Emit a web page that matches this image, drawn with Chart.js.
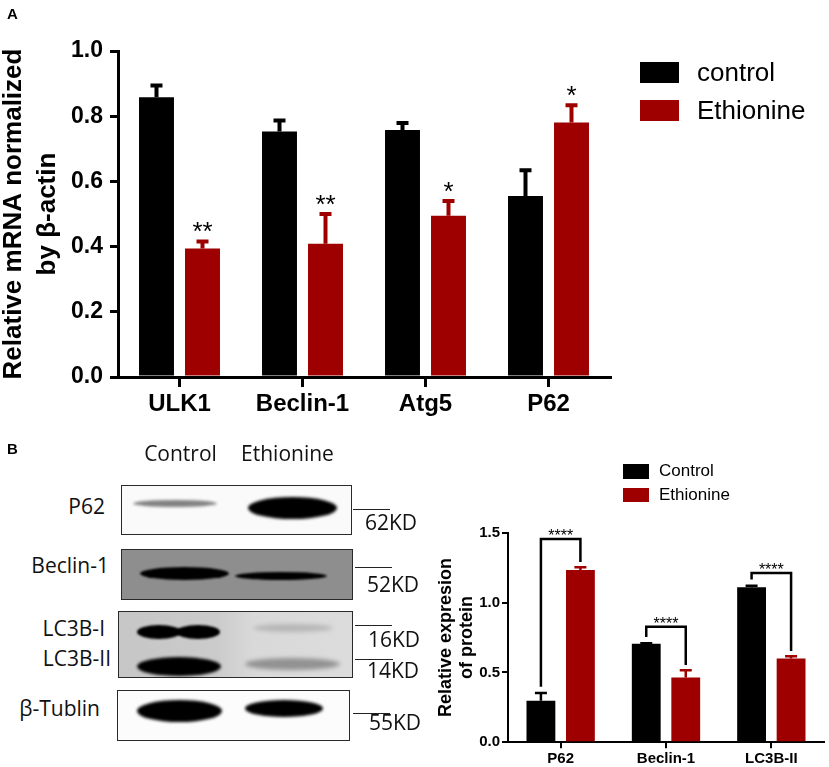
<!DOCTYPE html>
<html><head><meta charset="utf-8">
<script src="https://cdn.jsdelivr.net/npm/chart.js@4.4.0/dist/chart.umd.min.js"></script>
<style>
html,body{margin:0;padding:0;background:#fff;}
#fig{position:relative;width:829px;height:767px;overflow:hidden;background:#fff;}
.abs{position:absolute;}
.t{position:absolute;white-space:nowrap;line-height:1;color:#111;}
.box{position:absolute;box-sizing:border-box;border:1.5px solid #2a2a2a;}
.band{position:absolute;border-radius:50%;}
.mk{position:absolute;height:0;border-top:1.5px solid #222;}
.lg{position:absolute;white-space:nowrap;font-family:"Liberation Sans",Arial,sans-serif;color:#000;}
</style></head><body>
<div id="fig">
 <canvas id="chartA" class="abs" style="left:0;top:0;width:700px;height:430px" width="700" height="430"></canvas>
 <canvas id="chartB" class="abs" style="left:420px;top:420px;width:409px;height:347px" width="409" height="347"></canvas>
</div>
<script>
// ---------- Data ----------
const seriesNames = ['control', 'Ethionine'];
const seriesNamesB = ['Control', 'Ethionine'];

const categoriesA = ['ULK1', 'Beclin-1', 'Atg5', 'P62'];
const controlA = [0.858, 0.753, 0.758, 0.555];
const controlErrA = [0.042, 0.040, 0.027, 0.085];
const ethionineA = [0.394, 0.409, 0.495, 0.781];
const ethionineErrA = [0.028, 0.097, 0.051, 0.059];
const sigA = ['**', '**', '*', '*'];

const categoriesB = ['P62', 'Beclin-1', 'LC3B-II'];
const controlB = [0.298, 0.706, 1.109];
const controlErrB = [0.064, 0.012, 0.021];
const ethionineB = [1.233, 0.463, 0.599];
const ethionineErrB = [0.029, 0.062, 0.026];
const bracketTopB = [1.455, 0.827, 1.212];
const sigB = ['****', '****', '****'];

const blotLanes = ['Control', 'Ethionine'];
const blotProteins = ['P62', 'Beclin-1', 'LC3B-I', 'LC3B-II', 'β-Tublin'];
const blotMarkers = ['62KD', '52KD', '16KD', '14KD', '55KD'];

// ---------- Styles ----------
const BLACK = '#000000';
const RED = '#9e0000';
const FONT = '"Liberation Sans", Arial, sans-serif';
const BLOTFONT = '"Open Sans", "Noto Sans", sans-serif';
const fig = document.getElementById('fig');

function el(cls, css, text) {
  const d = document.createElement('div');
  d.className = cls;
  Object.assign(d.style, css);
  if (text !== undefined) d.textContent = text;
  fig.appendChild(d);
  return d;
}
// text placed by baseline (line-height:1)
function textAt(str, x, baseline, size, family, weight, align, ascentRatio) {
  const top = baseline - size * ascentRatio;
  const css = {top: top + 'px', fontSize: size + 'px', fontFamily: family, fontWeight: weight};
  if (align === 'right') css.right = (829 - x) + 'px';
  else if (align === 'center') { css.left = (x - 200) + 'px'; css.width = '400px'; css.textAlign = 'center'; }
  else css.left = x + 'px';
  return el('t', css, str);
}

// ---------- Plugins ----------
const errorBars = {
  id: 'errorBars',
  afterDatasetsDraw(chart, args, opts) {
    const {ctx} = chart; const ys = chart.scales.y;
    chart.data.datasets.forEach((ds, i) => {
      const meta = chart.getDatasetMeta(i);
      meta.data.forEach((bar, j) => {
        const top = ys.getPixelForValue(ds.data[j] + ds.errors[j]);
        ctx.save();
        ctx.strokeStyle = ds.backgroundColor; ctx.lineWidth = opts.lineWidth; ctx.lineCap = 'butt';
        ctx.beginPath();
        ctx.moveTo(bar.x, bar.y); ctx.lineTo(bar.x, top + opts.lineWidth / 2);
        ctx.moveTo(bar.x - opts.capHalf, top + opts.lineWidth / 2); ctx.lineTo(bar.x + opts.capHalf, top + opts.lineWidth / 2);
        ctx.stroke();
        ctx.restore();
      });
    });
  }
};

const starsA = {
  id: 'starsA',
  afterDatasetsDraw(chart) {
    const {ctx} = chart; const ys = chart.scales.y;
    const ds = chart.data.datasets[1]; const meta = chart.getDatasetMeta(1);
    ctx.save();
    ctx.fillStyle = '#000'; ctx.font = '26px ' + FONT; ctx.textAlign = 'center'; ctx.textBaseline = 'alphabetic';
    meta.data.forEach((bar, j) => {
      const top = ys.getPixelForValue(ds.data[j] + ds.errors[j]);
      ctx.fillText(sigA[j], bar.x, top + 1);
    });
    ctx.restore();
  }
};

const bracketsB = {
  id: 'bracketsB',
  afterDatasetsDraw(chart) {
    const {ctx} = chart; const ys = chart.scales.y;
    const d0 = chart.data.datasets[0], d1 = chart.data.datasets[1];
    const m0 = chart.getDatasetMeta(0), m1 = chart.getDatasetMeta(1);
    ctx.save();
    ctx.strokeStyle = '#000'; ctx.lineWidth = 2.5; ctx.lineJoin = 'miter';
    ctx.fillStyle = '#000'; ctx.font = '16px ' + FONT; ctx.textAlign = 'center'; ctx.textBaseline = 'alphabetic';
    m0.data.forEach((b0, j) => {
      const b1 = m1.data[j];
      const yT = ys.getPixelForValue(bracketTopB[j]);
      const yL = ys.getPixelForValue(d0.data[j] + d0.errors[j]) - 5;
      const yR = ys.getPixelForValue(d1.data[j] + d1.errors[j]) - 4;
      ctx.beginPath();
      ctx.moveTo(b0.x, yL); ctx.lineTo(b0.x, yT); ctx.lineTo(b1.x, yT); ctx.lineTo(b1.x, yR);
      ctx.stroke();
      ctx.fillText(sigB[j], (b0.x + b1.x) / 2, yT + 2.5);
    });
    ctx.restore();
  }
};

// ---------- Chart A ----------
new Chart(document.getElementById('chartA'), {
  type: 'bar',
  data: {
    labels: categoriesA,
    datasets: [
      {label: seriesNames[0], data: controlA, errors: controlErrA, backgroundColor: BLACK, borderWidth: 0,
       categoryPercentage: 0.748, barPercentage: 0.76},
      {label: seriesNames[1], data: ethionineA, errors: ethionineErrA, backgroundColor: RED, borderWidth: 0,
       categoryPercentage: 0.748, barPercentage: 0.76}
    ]
  },
  options: {
    responsive: false, animation: false, devicePixelRatio: 1,
    layout: {padding: {left: 0, top: 51, right: 90, bottom: 3}},
    plugins: {legend: {display: false}, tooltip: {enabled: false},
      errorBars: {lineWidth: 4, capHalf: 6}},
    scales: {
      x: {
        grid: {display: true, drawOnChartArea: false, drawTicks: true, tickLength: 10, offset: false, color: '#000', lineWidth: 3},
        border: {display: true, color: '#000', width: 3},
        ticks: {color: '#000', font: {family: FONT, size: 24, weight: 'bold'}, padding: 3, maxRotation: 0},
        afterFit(s) { s.height = 50; s.paddingLeft = 0; s.paddingRight = 0; }
      },
      y: {
        min: 0, max: 1.0,
        grid: {display: true, drawOnChartArea: false, drawTicks: true, tickLength: 8, color: '#000', lineWidth: 3},
        border: {display: true, color: '#000', width: 3},
        ticks: {stepSize: 0.2, color: '#000', font: {family: FONT, size: 23, weight: 'bold'}, padding: 7,
          callback: v => Number(v).toFixed(1)},
        title: {display: true, text: ['Relative mRNA normalized', 'by β-actin'], color: '#000',
          font: {family: FONT, size: 26, weight: 'bold', lineHeight: 1.3}, padding: {top: -3, bottom: 0}},
        afterFit(s) { s.width = 118; s.paddingTop = 0; s.paddingBottom = 0; }
      }
    }
  },
  plugins: [errorBars, starsA]
});

// ---------- Chart B ----------
new Chart(document.getElementById('chartB'), {
  type: 'bar',
  data: {
    labels: categoriesB,
    datasets: [
      {label: seriesNamesB[0], data: controlB, errors: controlErrB, backgroundColor: BLACK, borderWidth: 0,
       categoryPercentage: 0.75, barPercentage: 0.73},
      {label: seriesNamesB[1], data: ethionineB, errors: ethionineErrB, backgroundColor: RED, borderWidth: 0,
       categoryPercentage: 0.75, barPercentage: 0.73}
    ]
  },
  options: {
    responsive: false, animation: false, devicePixelRatio: 1,
    layout: {padding: {left: 0, top: 112.7, right: 5, bottom: 2.7}},
    plugins: {legend: {display: false}, tooltip: {enabled: false},
      errorBars: {lineWidth: 2.5, capHalf: 6}},
    scales: {
      x: {
        grid: {display: true, drawOnChartArea: false, drawTicks: true, tickLength: 6, offset: false, color: '#000', lineWidth: 2},
        border: {display: true, color: '#000', width: 2},
        ticks: {color: '#000', font: {family: FONT, size: 15, weight: 'bold'}, padding: 2, maxRotation: 0},
        afterFit(s) { s.height = 22; s.paddingLeft = 0; s.paddingRight = 0; }
      },
      y: {
        min: 0, max: 1.5,
        grid: {display: true, drawOnChartArea: false, drawTicks: true, tickLength: 6, color: '#000', lineWidth: 2},
        border: {display: true, color: '#000', width: 2},
        ticks: {stepSize: 0.5, color: '#000', font: {family: FONT, size: 15, weight: 'bold'}, padding: 2,
          callback: v => Number(v).toFixed(1)},
        title: {display: true, text: ['Relative expresion', 'of protein'], color: '#000',
          font: {family: FONT, size: 18, weight: 'bold', lineHeight: 1.15}, padding: {top: 15.5, bottom: 0}},
        afterFit(s) { s.width = 88; s.paddingTop = 0; s.paddingBottom = 0; }
      }
    }
  },
  plugins: [errorBars, bracketsB]
});

// ---------- Legends (HTML) ----------
el('abs', {left: '640px', top: '62px', width: '39px', height: '21px', background: BLACK});
el('abs', {left: '640px', top: '100px', width: '39px', height: '21px', background: RED});
el('lg', {left: '697px', top: '57px', fontSize: '26px', lineHeight: '30px'}, seriesNames[0]);
el('lg', {left: '697px', top: '95px', fontSize: '26px', lineHeight: '30px'}, seriesNames[1]);

el('abs', {left: '623px', top: '464px', width: '26px', height: '15px', background: BLACK});
el('abs', {left: '623px', top: '488px', width: '26px', height: '14px', background: RED});
el('lg', {left: '659px', top: '461px', fontSize: '17px', lineHeight: '20px'}, seriesNamesB[0]);
el('lg', {left: '659px', top: '485px', fontSize: '17px', lineHeight: '20px'}, seriesNamesB[1]);

// ---------- Panel letters ----------
el('lg', {left: '7px', top: '6px', fontSize: '15px', fontWeight: 'bold', lineHeight: '16px'}, 'A');
el('lg', {left: '7px', top: '441px', fontSize: '15px', fontWeight: 'bold', lineHeight: '16px'}, 'B');

// ---------- Western blot (illustration) ----------
const OS_ASC = 0.888;
textAt(blotLanes[0], 180.5, 462, 21, BLOTFONT, 'normal', 'center', OS_ASC);
textAt(blotLanes[1], 287.5, 462, 21, BLOTFONT, 'normal', 'center', OS_ASC);

el('box', {left: '121px', top: '485px', width: '231px', height: '50px', background: '#fafafa'});
el('box', {left: '121px', top: '549px', width: '232px', height: '51px', background: '#8e8e8e'});
el('box', {left: '118px', top: '611px', width: '235px', height: '67px',
  background: 'linear-gradient(90deg,#c6c6c6 0%,#cbcbcb 42%,#d9d9d9 58%,#dcdcdc 100%)'});
el('box', {left: '117px', top: '690px', width: '233px', height: '51px', background: '#fcfcfc'});

function band(x1, y1, x2, y2, color, blur) {
  el('band', {left: x1 + 'px', top: y1 + 'px', width: (x2 - x1) + 'px', height: (y2 - y1) + 'px',
    background: color, filter: 'blur(' + blur + 'px)'});
}
// P62
band(133, 500, 217, 507, 'rgba(30,30,30,0.55)', 1.5);
band(248, 497, 337, 519, '#000', 1.6);
// Beclin-1
band(140, 567, 229, 580, '#000', 1.2);
band(235, 572, 327, 580, '#000', 1.0);
// LC3B-I / II
band(137, 625, 181, 639, '#000', 1.3);
band(176, 625, 220, 639, '#000', 1.3);
band(137, 657, 221, 676, '#000', 1.4);
band(253, 624, 333, 632, 'rgba(0,0,0,0.16)', 2);
band(245, 658, 340, 670, 'rgba(0,0,0,0.33)', 2.2);
// beta-Tublin
band(137, 700, 222, 722, '#000', 1.5);
band(245, 700, 323, 717, '#000', 1.5);

textAt(blotProteins[0], 105, 515, 21, BLOTFONT, 'normal', 'right', OS_ASC);
textAt(blotProteins[1], 109, 574, 21, BLOTFONT, 'normal', 'right', OS_ASC);
textAt(blotProteins[2], 105, 637, 21, BLOTFONT, 'normal', 'right', OS_ASC);
textAt(blotProteins[3], 111, 667, 21, BLOTFONT, 'normal', 'right', OS_ASC);
textAt(blotProteins[4], 100, 717, 21, BLOTFONT, 'normal', 'right', OS_ASC);

el('mk', {left: '353px', top: '509px', width: '37px'});
el('mk', {left: '355px', top: '567px', width: '37px'});
el('mk', {left: '355px', top: '625px', width: '37px'});
el('mk', {left: '355px', top: '659px', width: '38px'});
el('mk', {left: '353px', top: '713px', width: '37px'});

textAt(blotMarkers[0], 365, 531, 21, BLOTFONT, 'normal', 'left', OS_ASC);
textAt(blotMarkers[1], 367, 593, 21, BLOTFONT, 'normal', 'left', OS_ASC);
textAt(blotMarkers[2], 368, 648, 21, BLOTFONT, 'normal', 'left', OS_ASC);
textAt(blotMarkers[3], 367, 679, 21, BLOTFONT, 'normal', 'left', OS_ASC);
textAt(blotMarkers[4], 369, 731, 21, BLOTFONT, 'normal', 'left', OS_ASC);
</script>
</body></html>
